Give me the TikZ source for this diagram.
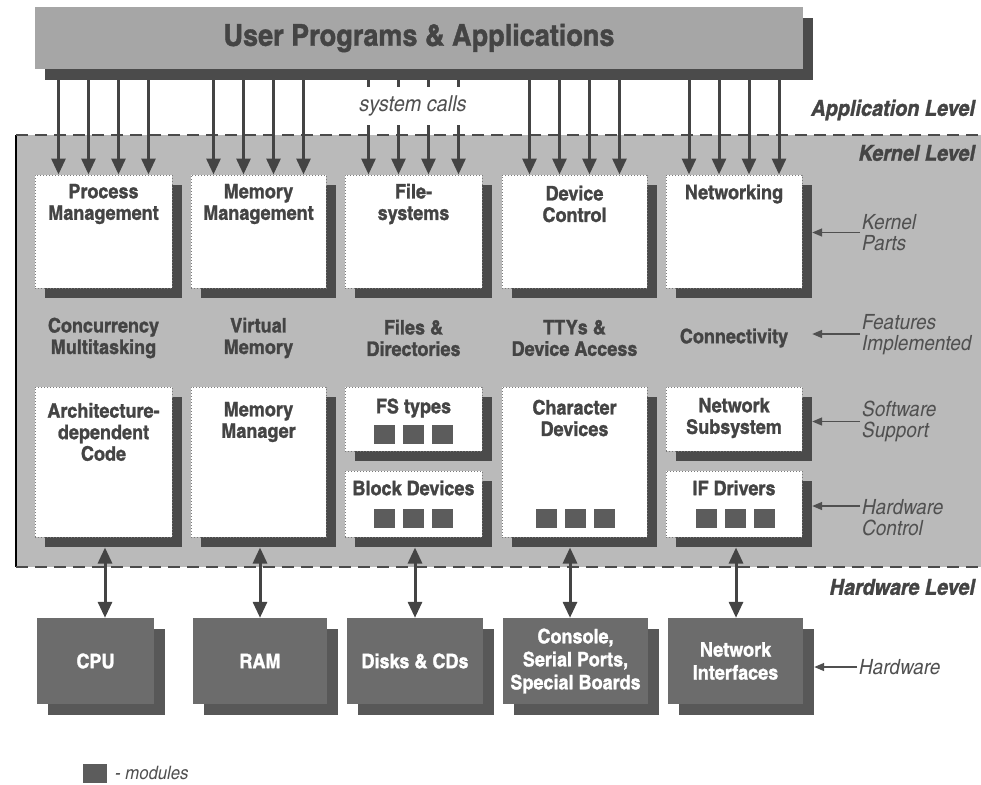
\documentclass[tikz,border=0pt]{standalone}
\usepackage{fontspec}
\setmainfont{TeX Gyre Heros Cn}[
  BoldFeatures={FakeBold=1.3,FakeStretch=1.1},
  ItalicFeatures={FakeStretch=1.1},
  BoldItalicFeatures={FakeBold=1.3,FakeStretch=1.1}]
\usetikzlibrary{arrows.meta,calc}

\definecolor{kernelbg}{HTML}{BABABA}
\definecolor{bannerbg}{HTML}{A6A6A6}
\definecolor{shade}{HTML}{4B4B4B}
\definecolor{ink}{HTML}{444444}
\definecolor{hwfill}{HTML}{6C6C6C}
\definecolor{hwshade}{HTML}{585858}
\definecolor{modfill}{HTML}{5C5C5C}
\definecolor{notec}{HTML}{505050}
\definecolor{dotc}{HTML}{7A7A7A}

% kernel part: shadow first, then the white dotted box on top
\newcommand\kpart[5]{%
  \node[kshadow, minimum width=#4, minimum height=#5] (#1sh) at (#2+10,#3+10) {};
  \node[kbox, minimum width=#4, minimum height=#5] (#1) at (#2,#3) {};}
% hardware device: lighter shadow, dark box, white caption
\newcommand\hwdev[6]{%
  \node[hwshadow, minimum width=#4, minimum height=#5] (#1sh) at (#2+11,#3+11) {};
  \node[hwbox, minimum width=#4, minimum height=#5] (#1) at (#2,#3) {#6};}

\begin{document}
\begin{tikzpicture}[x=1pt,y=-1pt,
  kshadow/.style={fill=shade, draw=none, inner sep=0pt},
  kbox/.style={fill=white, draw=dotc, dotted, line width=1pt, inner sep=0pt},
  hwshadow/.style={fill=hwshade, draw=none, inner sep=0pt},
  hwbox/.style={fill=hwfill, draw=none, inner sep=0pt, text=white, align=center,
    font=\fontsize{20}{23}\selectfont\bfseries},
  modbox/.style={fill=modfill, draw=none, inner sep=0pt, minimum width=21pt, minimum height=19pt},
  parttext/.style={text=ink, align=center, inner sep=0pt, font=\fontsize{20}{21.5}\selectfont\bfseries},
  leveltext/.style={text=ink, anchor=east, inner sep=0pt, font=\fontsize{22}{24}\selectfont\bfseries\itshape},
  notetext/.style={text=notec, anchor=west, align=left, inner sep=2pt, font=\fontsize{21}{21}\selectfont\itshape},
  call/.style={draw=ink, line width=3pt, -{Triangle[length=16pt,width=14pt]}},
  io/.style={draw=ink, line width=3pt, {Triangle[length=16pt,width=14pt]}-{Triangle[length=16pt,width=14pt]}},
  note/.style={draw=notec, line width=1.6pt, -{Triangle[length=10pt,width=8pt]}},
  levelline/.style={draw=shade, line width=2pt, dash pattern=on 12pt off 7pt}]

\useasboundingbox (0,0) rectangle (981,784);

% ---------- kernel area ----------
\fill[kernelbg] (16,135) rectangle (981,567);
\draw[shade, line width=2pt] (16,135) -- (16,567);
\draw[levelline] (16,135) -- (981,135);
\draw[levelline] (16,567) -- (981,567);

% ---------- user space banner ----------
\node[fill=shade, inner sep=0pt, minimum width=768, minimum height=62] (bsh) at (429,49) {};
\node[fill=bannerbg, inner sep=0pt, minimum width=768, minimum height=62, text=ink,
      font=\fontsize{30}{32}\selectfont\bfseries] (banner) at (419,38) {User Programs \& Applications};

% ---------- kernel parts ----------
\kpart{pm}{103.5}{231.5}{137}{113}
\kpart{mm}{258.5}{231.5}{135}{113}
\kpart{fs}{413.5}{231.5}{137}{113}
\kpart{dc}{574.5}{231.5}{145}{113}
\kpart{nw}{734}{231.5}{136}{113}

\node[parttext] (pm-t) at (103.5,204) {Process\\Management};
\node[parttext] (mm-t) at (258.5,204) {Memory\\Management};
\node[parttext] (fs-t) at (413.5,204) {File-\\systems};
\node[parttext] (dc-t) at (574.5,204) {Device\\Control};
\node[parttext] (nw-t) at (734,194) {Networking};

% system calls from the applications into each part
\foreach \b in {pm,mm,fs,dc,nw}
  \foreach \dx in {-45,-15,15,45}
    \draw[call] ([xshift=\dx pt]\b.north |- bsh.south) -- ([xshift=\dx pt]\b.north);
\node[fill=white, inner sep=0pt, minimum width=112, minimum height=38, text=notec,
      font=\fontsize{22}{22}\selectfont\itshape] (sc) at (413,106) {system calls};

% ---------- features ----------
\node[parttext] (f1) at (103.5,338) {Concurrency\\Multitasking};
\node[parttext] (f2) at (258.5,338) {Virtual\\Memory};
\node[parttext] (f3) at (413.5,338) {Files \&\\Directories};
\node[parttext] (f4) at (574.5,338) {TTYs \&\\Device Access};
\node[parttext] (f5) at (734,338) {Connectivity};

% ---------- software support / hardware control ----------
\kpart{ac}{103.5}{462}{137}{150}
\kpart{mg}{258.5}{462}{135}{150}
\kpart{ft}{413.5}{419}{137}{64}
\kpart{bd}{413.5}{504}{137}{66}
\kpart{cd}{574.5}{462}{145}{150}
\kpart{ns}{734}{419}{136}{64}
\kpart{id}{734}{504}{136}{66}

\node[parttext] (ac-t) at (103.5,432) {Architecture-\\dependent\\Code};
\node[parttext] (mg-t) at (258.5,422) {Memory\\Manager};
\node[parttext] (ft-t) at (413.5,408) {FS types};
\node[parttext] (bd-t) at (413.5,488) {Block Devices};
\node[parttext] (cd-t) at (574.5,418) {Character\\Devices};
\node[parttext] (ns-t) at (734,418) {Network\\Subsystem};
\node[parttext] (id-t) at (734,488) {IF Drivers};

% loadable modules
\foreach \dx [count=\i] in {-29,0,29} {
  \node[modbox] (ft-m\i) at ($(ft.center)+(\dx,15.5)$) {};
  \node[modbox] (bd-m\i) at ($(bd.center)+(\dx,14)$) {};
  \node[modbox] (cd-m\i) at ($(cd.center)+(\dx+1,56)$) {};
  \node[modbox] (id-m\i) at ($(id.center)+(\dx+1,14)$) {};
}

% ---------- hardware ----------
\hwdev{cpu}{95.5}{661}{117}{86}{CPU}
\hwdev{ram}{260}{661}{134}{86}{RAM}
\hwdev{dsk}{415}{661}{136}{86}{Disks \& CDs}
\hwdev{con}{575.5}{661}{145}{86}{Console,\\Serial Ports,\\Special Boards}
\hwdev{nif}{735.5}{661}{135}{86}{Network\\Interfaces}

\draw[io] ($(ac.south)+(1.5,10)$) coordinate (h1) -- (h1 |- cpu.north);
\draw[io] ($(mg.south)+(1.5,10)$) coordinate (h2) -- (h2 |- ram.north);
\draw[io] ($(bd.south)+(1.5,10)$) coordinate (h3) -- (h3 |- dsk.north);
\draw[io] ($(cd.south)+(-4.5,10)$) coordinate (h4) -- (h4 |- con.north);
\draw[io] ($(id.south)+(2,10)$) coordinate (h5) -- (h5 |- nif.north);

% ---------- level names ----------
\node[leveltext] (lapp) at (975,110) {Application Level};
\node[leveltext] (lker) at (975,153) {Kernel Level};
\node[leveltext] (lhw) at (975,587) {Hardware Level};

% ---------- side notes ----------
\node[notetext] (kp) at (860,232.5) {Kernel\\Parts};
\node[notetext] (fi) at (860,335) {Features\\Implemented};
\node[notetext] (ss) at (860,421.5) {Software\\Support};
\node[notetext] (hc) at (860,518) {Hardware\\Control};
\node[notetext] (hw) at (857,667) {Hardware};

\draw[note] (kp.west) -- (kp.west -| nwsh.east);
\draw[note] ([yshift=1pt]fi.west) -- ([yshift=1pt]fi.west -| nwsh.east);
\draw[note] (ss.west) -- (ss.west -| nssh.east);
\draw[note] ([yshift=12pt]hc.west) -- ([yshift=12pt]hc.west -| idsh.east);
\draw[note] (hw.west) -- (hw.west -| nifsh.east);

% ---------- legend ----------
\node[modbox, minimum width=24pt] (legm) at (95,773.5) {};
\node[text=notec, anchor=west, inner sep=0pt, font=\fontsize{18.5}{20}\selectfont\itshape] (legt) at (115,773) {- modules};

\end{tikzpicture}
\end{document}
